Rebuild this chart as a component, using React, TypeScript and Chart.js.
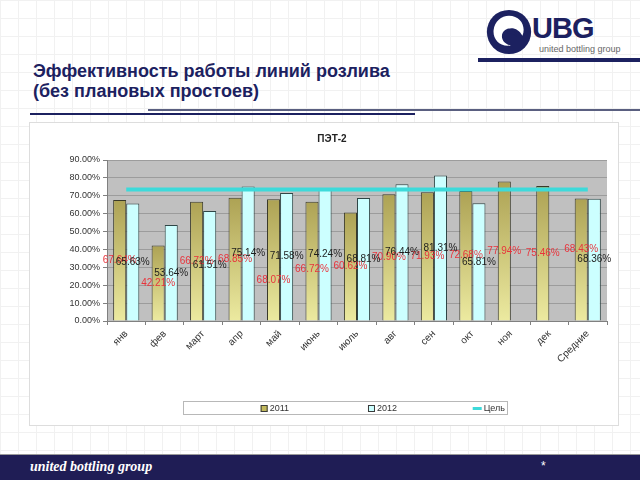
import React, { useEffect, useRef } from "react";
import { Chart, registerables } from "chart.js";

Chart.register(...registerables);

const categories = ["янв", "фев", "март", "апр", "май", "июнь", "июль", "авг", "сен", "окт", "ноя", "дек", "Средние"];
const values2011 = [67.64, 42.21, 66.72, 68.85, 68.07, 66.72, 60.62, 70.9, 71.93, 72.68, 77.94, 75.46, 68.43];
const values2012: (number | null)[] = [65.63, 53.64, 61.51, 75.14, 71.58, 74.24, 68.81, 76.44, 81.31, 65.81, null, null, 68.36];
const targetValues = [73.5, 73.5, 73.5, 73.5, 73.5, 73.5, 73.5, 73.5, 73.5, 73.5, 73.5, 73.5, 73.5];
const yTicks = [0, 10, 20, 30, 40, 50, 60, 70, 80, 90];

// manual label nudges (px, like dragged Excel labels) — styling, not data
const labelNudge2011 = [0, 0, 0, 0, 20, 8, 0, 0, 0, 0, 0, 0, -10];

const NAVY = "#1c2160";
const CYAN_LINE = "#3ddada";
const BAR12 = "#ccffff";
const FONT = "Arial, 'Liberation Sans', sans-serif";

const plotBg = {
  id: "plotBg",
  beforeDraw(chart: any) {
    const { ctx, chartArea, width, height } = chart;
    ctx.save();
    ctx.fillStyle = "#ffffff";
    ctx.fillRect(0, 0, width, height);
    if (chartArea) {
      ctx.fillStyle = "#c0c0c0";
      ctx.fillRect(chartArea.left, chartArea.top, chartArea.right - chartArea.left, chartArea.bottom - chartArea.top);
    }
    ctx.restore();
  },
};

const barLabels = {
  id: "barLabels",
  afterDatasetsDraw(chart: any) {
    const { ctx } = chart;
    ctx.save();
    ctx.textAlign = "center";
    ctx.textBaseline = "middle";
    const colors = ["#e8343c", "#1e1e1e"];
    [0, 1].forEach((di) => {
      const meta = chart.getDatasetMeta(di);
      const data = chart.data.datasets[di].data;
      ctx.fillStyle = colors[di];
      ctx.font = `10px ${FONT}`;
      meta.data.forEach((el: any, i: number) => {
        const v = data[i];
        if (v === null || v === undefined) return;
        const p = el.getProps(["x", "y", "base"], true);
        const dy = di === 0 ? labelNudge2011[i] : 0;
        ctx.fillText(`${Number(v).toFixed(2)}%`, p.x, (p.y + p.base) / 2 + dy);
      });
    });
    ctx.restore();
  },
};

const boxLegend = {
  id: "boxLegend",
  afterDraw(chart: any) {
    const { ctx } = chart;
    const bx = 153, by = 278, bw = 324, bh = 13;
    ctx.save();
    ctx.fillStyle = "#ffffff";
    ctx.fillRect(bx, by, bw, bh);
    ctx.strokeStyle = "#b8b8b8";
    ctx.lineWidth = 1;
    ctx.strokeRect(bx + 0.5, by + 0.5, bw, bh);
    ctx.font = `9px ${FONT}`;
    ctx.textBaseline = "middle";
    ctx.textAlign = "right";
    const col = bw / 3;
    const cy = by + bh / 2 + 1;
    chart.data.datasets.forEach((ds: any, i: number) => {
      const right = bx + col * (i + 1) - 2;
      const tw = ctx.measureText(ds.label).width;
      ctx.fillStyle = "#333333";
      ctx.fillText(ds.label, right, cy);
      const mx = right - tw - 2;
      if (ds.type === "line") {
        ctx.strokeStyle = CYAN_LINE;
        ctx.lineWidth = 3;
        ctx.beginPath();
        ctx.moveTo(mx - 9, cy);
        ctx.lineTo(mx, cy);
        ctx.stroke();
      } else {
        ctx.fillStyle = i === 0 ? "#c2b95c" : BAR12;
        ctx.fillRect(mx - 7, cy - 3.5, 7, 7);
        ctx.strokeStyle = "#3a3a3a";
        ctx.lineWidth = 1;
        ctx.strokeRect(mx - 6.5, cy - 3, 6, 6);
      }
    });
    ctx.restore();
  },
};

function ChartBox() {
  const ref = useRef<HTMLCanvasElement | null>(null);
  useEffect(() => {
    if (!ref.current) return;
    const chart = new Chart(ref.current, {
      type: "bar",
      data: {
        labels: categories,
        datasets: [
          {
            type: "bar",
            label: "2011",
            data: values2011,
            backgroundColor: (c: any) => {
              const ch = c.chart;
              if (!ch.chartArea || c.raw == null) return "#d0c878";
              const y = ch.scales.y.getPixelForValue(c.raw);
              const b = ch.scales.y.getPixelForValue(0);
              const g = ch.ctx.createLinearGradient(0, y, 0, b);
              g.addColorStop(0, "#ada254");
              g.addColorStop(1, "#eceaa0");
              return g;
            },
            borderColor: "#3a3a2a",
            borderWidth: 1,
            order: 2,
          },
          {
            type: "bar",
            label: "2012",
            data: values2012,
            backgroundColor: BAR12,
            borderColor: "#2f4646",
            borderWidth: 1,
            order: 2,
          },
          {
            type: "line",
            label: "Цель",
            data: targetValues,
            borderColor: CYAN_LINE,
            borderWidth: 4,
            pointRadius: 0,
            fill: false,
            order: 0,
          },
        ] as any,
      },
      options: {
        responsive: false,
        animation: false,
        devicePixelRatio: 1,
        layout: { padding: { left: 27, right: 11, top: 0, bottom: 0 } },
        datasets: { bar: { categoryPercentage: 0.68, barPercentage: 1 } } as any,
        plugins: {
          legend: { display: false },
          tooltip: { enabled: false },
          title: {
            display: true,
            text: "ПЭТ-2",
            color: "#222222",
            font: { family: FONT, size: 10, weight: "bold" },
            padding: { top: 10, bottom: 15 },
          },
        },
        scales: {
          x: {
            afterFit: (s: any) => {
              s.height = 104;
            },
            grid: { display: true, drawOnChartArea: false, drawTicks: true, tickLength: 4, color: "#808080", offset: true },
            border: { color: "#808080" },
            ticks: { color: "#333333", font: { family: FONT, size: 10 }, minRotation: 45, maxRotation: 45, padding: 3 },
          },
          y: {
            min: 0,
            max: 90,
            afterFit: (s: any) => {
              s.width = 50;
            },
            afterBuildTicks: (s: any) => {
              s.ticks = yTicks.map((v) => ({ value: v }));
            },
            grid: { color: "#9c9c9c", tickLength: 4, tickColor: "#808080" },
            border: { color: "#808080" },
            ticks: {
              color: "#333333",
              font: { family: FONT, size: 9 },
              padding: 3,
              callback: (v: any) => `${Number(v).toFixed(2)}%`,
            },
          },
        },
      },
      plugins: [plotBg, barLabels, boxLegend],
    });
    return () => chart.destroy();
  }, []);
  return <canvas ref={ref} width={588} height={302} style={{ display: "block", width: 588, height: 302 }} />;
}

function Logo() {
  return (
    <div style={{ position: "absolute", left: 478, top: 4, width: 162, height: 54 }}>
      <svg width="50" height="50" viewBox="0 0 52 52" style={{ position: "absolute", left: 6, top: 3 }}>
        <circle cx="26" cy="26" r="23" fill={NAVY} />
        <path d="M26 9 C 38 9, 44 20, 40 30 C 36 22, 28 20, 22 24 C 16 28, 18 38, 28 40 C 16 42, 9 33, 10 24 C 11 15, 18 9, 26 9 Z" fill="#ffffff" />
        <path d="M23 27 C 27 23, 34 25, 34 31 C 31 28, 27 28, 23 27 Z" fill={NAVY} />
      </svg>
      <div style={{ position: "absolute", left: 54, top: 9, fontFamily: FONT, fontWeight: "bold", fontSize: 29, color: NAVY, letterSpacing: -1, lineHeight: "30px" }}>UBG</div>
      <div style={{ position: "absolute", left: 61, top: 40, fontFamily: FONT, fontSize: 9, color: "#666", whiteSpace: "nowrap" }}>united bottling group</div>
    </div>
  );
}

export default function App() {
  return (
    <div
      style={{
        position: "fixed",
        left: 0,
        top: 0,
        width: 640,
        height: 480,
        overflow: "hidden",
        background: "#ffffff",
        backgroundImage: "linear-gradient(#f1f1f1 1px, transparent 1px), linear-gradient(90deg, #f1f1f1 1px, transparent 1px)",
        backgroundSize: "18px 18px",
      }}
    >
      <Logo />
      <div style={{ position: "absolute", left: 478, top: 58, width: 162, height: 4, background: NAVY }} />
      <div style={{ position: "absolute", left: 33, top: 61, fontFamily: FONT, fontWeight: "bold", fontSize: 18, lineHeight: "20px", color: NAVY, whiteSpace: "nowrap" }}>
        Эффективность работы линий розлива
        <br />
        (без плановых простоев)
      </div>
      <div style={{ position: "absolute", left: 148, top: 109, width: 492, height: 2, background: "#5a5f80" }} />
      <div style={{ position: "absolute", left: 30, top: 113, width: 385, height: 2, background: NAVY }} />
      <div style={{ position: "absolute", left: 29, top: 122, width: 588, height: 302, border: "1px solid #dddddd" }}>
        <ChartBox />
      </div>
      <div style={{ position: "absolute", left: 0, top: 454, width: 640, height: 1, background: "#9a9a9a" }} />
      <div style={{ position: "absolute", left: 0, top: 455, width: 640, height: 25, background: "#1f1d55" }}>
        <div style={{ position: "absolute", left: 30, top: 4, fontFamily: "'Liberation Serif', serif", fontStyle: "italic", fontWeight: "bold", fontSize: 14, color: "#ffffff", whiteSpace: "nowrap" }}>
          united bottling group
        </div>
        <div style={{ position: "absolute", left: 541, top: 4, fontFamily: FONT, fontSize: 12, color: "#ffffff" }}>*</div>
      </div>
    </div>
  );
}
